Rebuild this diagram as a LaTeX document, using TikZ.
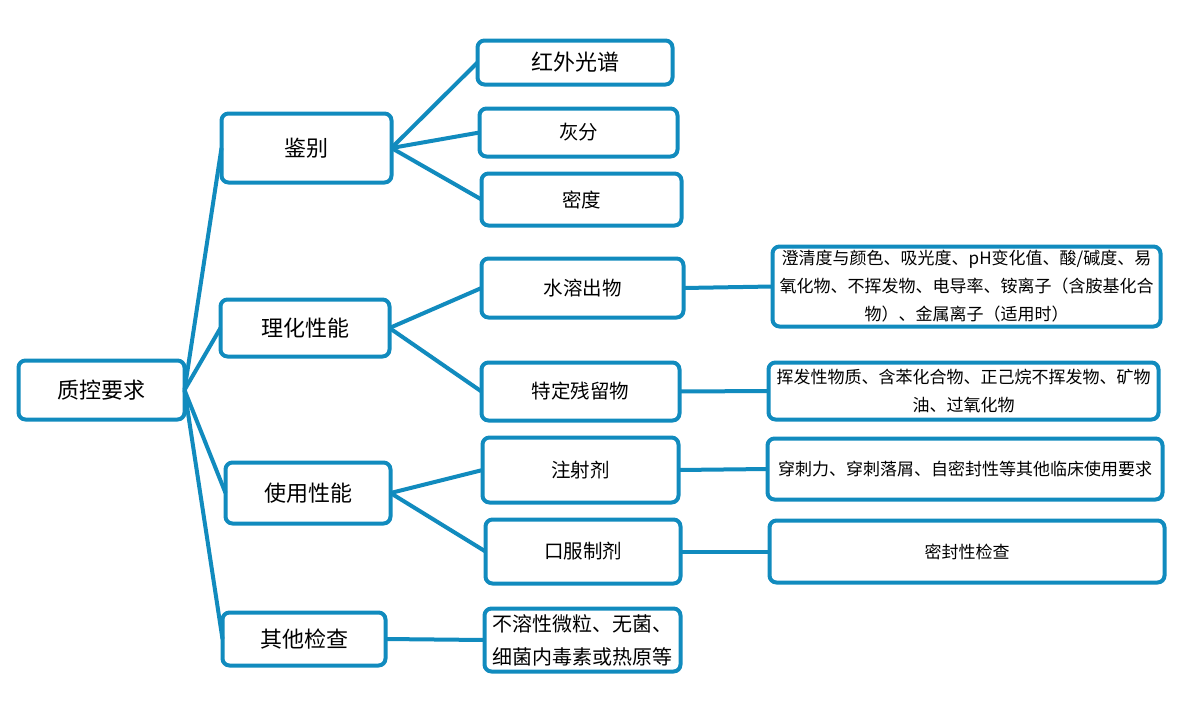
\documentclass[tikz,border=0pt]{standalone}
\usepackage{fontspec}
\newfontfamily\cjk{Noto Sans CJK SC}
\definecolor{qcblue}{RGB}{17,139,190}
\tikzset{
  box/.style={draw=qcblue, line width=4pt, rounded corners=7pt, fill=white, inner sep=0pt, outer sep=0pt, align=center, text=black},
  big/.style={font={\cjk\fontsize{22}{26}\selectfont}},
  mid/.style={font={\cjk\fontsize{19.5}{24}\selectfont}},
  small/.style={font={\cjk\fontsize{17}{28}\selectfont}},
  link/.style={draw=qcblue, line width=4pt}
}
\newcommand{\qbox}[7]{\node[box,#1,minimum width=#4pt,minimum height=#5pt,#6] (#2) at (#3) {#7};}
\begin{document}
\begin{tikzpicture}[x=1pt,y=-1pt]
\useasboundingbox (0,0) rectangle (1194,712);
\fill[white] (0,0) rectangle (1194,712);
% level 0
\qbox{big}{root}{101.5,390}{166}{59}{}{质控要求}
% level 1
\qbox{big}{jb}{306.5,148}{170}{69}{}{鉴别}
\qbox{big}{lh}{305,328}{169}{57}{}{理化性能}
\qbox{big}{sy}{308,493}{165}{61}{}{使用性能}
\qbox{big}{qt}{304,639}{163}{53}{}{其他检查}
% level 2
\qbox{big}{hw}{575,62.5}{195}{44}{}{红外光谱}
\qbox{mid}{hf}{578.5,132.5}{198}{48}{}{灰分}
\qbox{mid}{md}{581.5,199.5}{200}{52}{}{密度}
\qbox{mid}{sr}{582.5,288}{202}{59}{}{水溶出物}
\qbox{mid}{td}{580.5,391.5}{198}{58}{}{特定残留物}
\qbox{mid}{zs}{580.5,470}{196}{65}{}{注射剂}
\qbox{mid}{kf}{583,551.5}{195}{64}{}{口服制剂}
\qbox{mid}{br}{582.5,640}{196}{63}{align=left,font={\cjk\fontsize{20}{33}\selectfont}}{不溶性微粒、无菌、\\细菌内毒素或热原等}
% level 3
\qbox{small}{ta}{966.5,286.5}{388}{80}{}{澄清度与颜色、吸光度、pH变化值、酸/碱度、易\\氧化物、不挥发物、电导率、铵离子（含胺基化合\\物）、金属离子（适用时）}
\qbox{small}{tb}{963.5,391}{390}{57}{}{挥发性物质、含苯化合物、正己烷不挥发物、矿物\\油、过氧化物}
\qbox{small}{tc}{965,469}{395}{61}{}{穿刺力、穿刺落屑、自密封性等其他临床使用要求}
\qbox{small}{tdd}{967,551.5}{395}{62}{}{密封性检查}
% connectors
\foreach \a/\b in {root/jb,root/lh,root/sy,root/qt,jb/hw,jb/hf,jb/md,lh/sr,lh/td,sy/zs,sy/kf,qt/br,sr/ta,td/tb,zs/tc,kf/tdd}{
  \draw[link] (\a.east) -- (\b.west);
}
\end{tikzpicture}
\end{document}
